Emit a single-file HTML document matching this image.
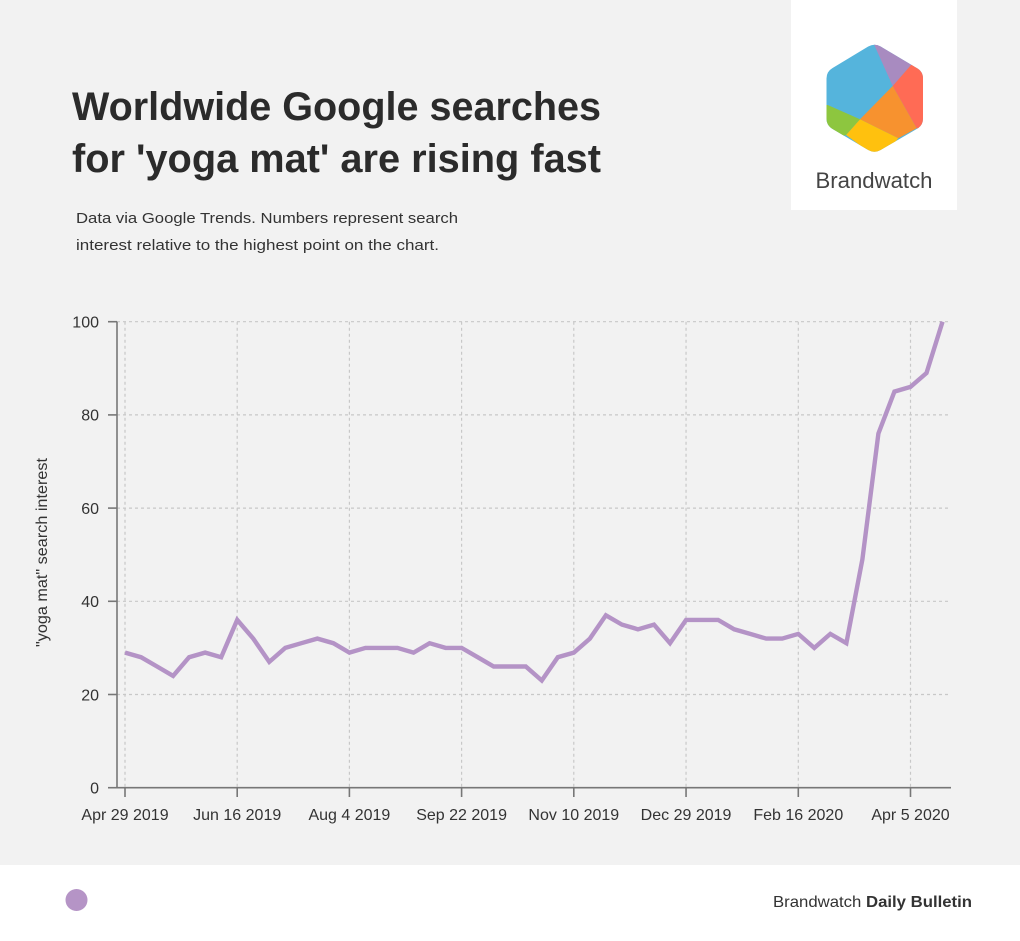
<!DOCTYPE html>
<html>
<head>
<meta charset="utf-8">
<style>
html,body{margin:0;padding:0;background:#f2f2f2;}
svg{display:block;}
text{font-family:"Liberation Sans",sans-serif;}
</style>
</head>
<body>
<svg width="1020" height="941" viewBox="0 0 1020 941" xmlns="http://www.w3.org/2000/svg">
  <rect x="0" y="0" width="1020" height="941" fill="#f2f2f2"/>
  <!-- footer -->
  <rect x="0" y="865" width="1020" height="76" fill="#ffffff"/>
  <circle cx="76.5" cy="900" r="11" fill="#b594c6"/>
  <text x="773" y="907" font-size="16" fill="#333" textLength="199" lengthAdjust="spacingAndGlyphs">Brandwatch <tspan font-weight="bold">Daily Bulletin</tspan></text>

  <!-- logo box -->
  <rect x="791" y="0" width="166" height="210" fill="#ffffff"/>
  <defs>
    <clipPath id="hex">
      <path d="M868.2,46.5 Q874.3,43 880.4,46.4 L916.9,68.1 Q923,71.5 923,78.5 L923,118.5 Q923,125.5 916.9,128.9 L880.4,150.1 Q874.3,153.5 868.2,150 L832.6,129 Q826.5,125.5 826.5,118.5 L826.5,78.5 Q826.5,71.5 832.6,68 Z"/>
    </clipPath>
  </defs>
  <g clip-path="url(#hex)">
    <rect x="820" y="40" width="110" height="120" fill="#55b4dc"/>
    <polygon points="872,40 892.7,86 911,65 925,60 900,40" fill="#a88bc0"/>
    <polygon points="911,65 925,60 930,130 916.7,128.3 892.7,86" fill="#ff6b55"/>
    <polygon points="892.7,86 916.7,128.3 898.3,138.3 860,119.3" fill="#f7922f"/>
    <polygon points="860,119.3 898.3,138.3 880,160 846,135" fill="#ffc10e"/>
    <polygon points="860,119.3 846,135 830,140 820,130 820,105 827.7,105" fill="#8dc63f"/>
  </g>
  <text x="874" y="188" font-size="22" fill="#444" text-anchor="middle" textLength="117" lengthAdjust="spacingAndGlyphs">Brandwatch</text>

  <!-- title -->
  <text x="72" y="120" font-size="40" font-weight="bold" fill="#2b2b2b" textLength="529" lengthAdjust="spacingAndGlyphs">Worldwide Google searches</text>
  <text x="72" y="172" font-size="40" font-weight="bold" fill="#2b2b2b" textLength="529" lengthAdjust="spacingAndGlyphs">for 'yoga mat' are rising fast</text>
  <text x="76" y="223" font-size="15" fill="#333" textLength="382" lengthAdjust="spacingAndGlyphs">Data via Google Trends. Numbers represent search</text>
  <text x="76" y="250" font-size="15" fill="#333" textLength="363" lengthAdjust="spacingAndGlyphs">interest relative to the highest point on the chart.</text>

  <!-- grid -->
  <g stroke="#c8c8c8" stroke-width="1.2" stroke-dasharray="3,3" fill="none">
    <line x1="117" y1="321.7" x2="951" y2="321.7"/>
    <line x1="117" y1="414.9" x2="951" y2="414.9"/>
    <line x1="117" y1="508.1" x2="951" y2="508.1"/>
    <line x1="117" y1="601.3" x2="951" y2="601.3"/>
    <line x1="117" y1="694.5" x2="951" y2="694.5"/>
    <line x1="125" y1="321.7" x2="125" y2="788"/>
    <line x1="237.2" y1="321.7" x2="237.2" y2="788"/>
    <line x1="349.4" y1="321.7" x2="349.4" y2="788"/>
    <line x1="461.6" y1="321.7" x2="461.6" y2="788"/>
    <line x1="573.8" y1="321.7" x2="573.8" y2="788"/>
    <line x1="686.05" y1="321.7" x2="686.05" y2="788"/>
    <line x1="798.3" y1="321.7" x2="798.3" y2="788"/>
    <line x1="910.5" y1="321.7" x2="910.5" y2="788"/>
  </g>

  <!-- axes -->
  <g stroke="#777" stroke-width="1.6" fill="none">
    <line x1="117" y1="321.7" x2="117" y2="788.5"/>
    <line x1="116.2" y1="787.7" x2="951" y2="787.7"/>
    <line x1="108" y1="321.7" x2="117" y2="321.7"/>
    <line x1="108" y1="414.9" x2="117" y2="414.9"/>
    <line x1="108" y1="508.1" x2="117" y2="508.1"/>
    <line x1="108" y1="601.3" x2="117" y2="601.3"/>
    <line x1="108" y1="694.5" x2="117" y2="694.5"/>
    <line x1="108" y1="787.7" x2="117" y2="787.7"/>
    <line x1="125" y1="787.7" x2="125" y2="797"/>
    <line x1="237.2" y1="787.7" x2="237.2" y2="797"/>
    <line x1="349.4" y1="787.7" x2="349.4" y2="797"/>
    <line x1="461.6" y1="787.7" x2="461.6" y2="797"/>
    <line x1="573.8" y1="787.7" x2="573.8" y2="797"/>
    <line x1="686.05" y1="787.7" x2="686.05" y2="797"/>
    <line x1="798.3" y1="787.7" x2="798.3" y2="797"/>
    <line x1="910.5" y1="787.7" x2="910.5" y2="797"/>
  </g>

  <!-- y labels -->
  <g font-size="16" fill="#333" text-anchor="end">
    <text x="99" y="327.5">100</text>
    <text x="99" y="420.7">80</text>
    <text x="99" y="513.9">60</text>
    <text x="99" y="607.1">40</text>
    <text x="99" y="700.3">20</text>
    <text x="99" y="793.5">0</text>
  </g>
  <text transform="translate(47,552.5) rotate(-90)" font-size="15.5" fill="#333" text-anchor="middle" textLength="189" lengthAdjust="spacingAndGlyphs">"yoga mat" search interest</text>

  <!-- x labels -->
  <g font-size="16" fill="#333" text-anchor="middle">
    <text x="125" y="820">Apr 29 2019</text>
    <text x="237.2" y="820">Jun 16 2019</text>
    <text x="349.4" y="820">Aug 4 2019</text>
    <text x="461.6" y="820">Sep 22 2019</text>
    <text x="573.8" y="820">Nov 10 2019</text>
    <text x="686.05" y="820">Dec 29 2019</text>
    <text x="798.3" y="820">Feb 16 2020</text>
    <text x="910.5" y="820">Apr 5 2020</text>
  </g>

  <!-- series -->
  <polyline fill="none" stroke="#b493c6" stroke-width="4.4" stroke-linejoin="miter" stroke-linecap="butt"
    points="125,652.6 141.03,657.2 157.06,666.5 173.09,675.9 189.12,657.2 205.15,652.6 221.18,657.2 237.21,619.9 253.24,638.6 269.27,661.9 285.3,647.9 301.33,643.2 317.36,638.6 333.39,643.2 349.42,652.6 365.45,647.9 381.48,647.9 397.51,647.9 413.54,652.6 429.57,643.2 445.6,647.9 461.63,647.9 477.66,657.2 493.69,666.5 509.72,666.5 525.75,666.5 541.78,680.5 557.81,657.2 573.84,652.6 589.87,638.6 605.9,615.3 621.93,624.6 637.96,629.3 653.99,624.6 670.02,643.2 686.05,619.9 702.08,619.9 718.11,619.9 734.14,629.3 750.17,633.9 766.2,638.6 782.23,638.6 798.26,633.9 814.29,647.9 830.32,633.9 846.35,643.2 862.38,559.4 878.41,433.5 894.44,391.6 910.47,386.9 926.5,373 942.53,321.7"/>
</svg>
</body>
</html>
